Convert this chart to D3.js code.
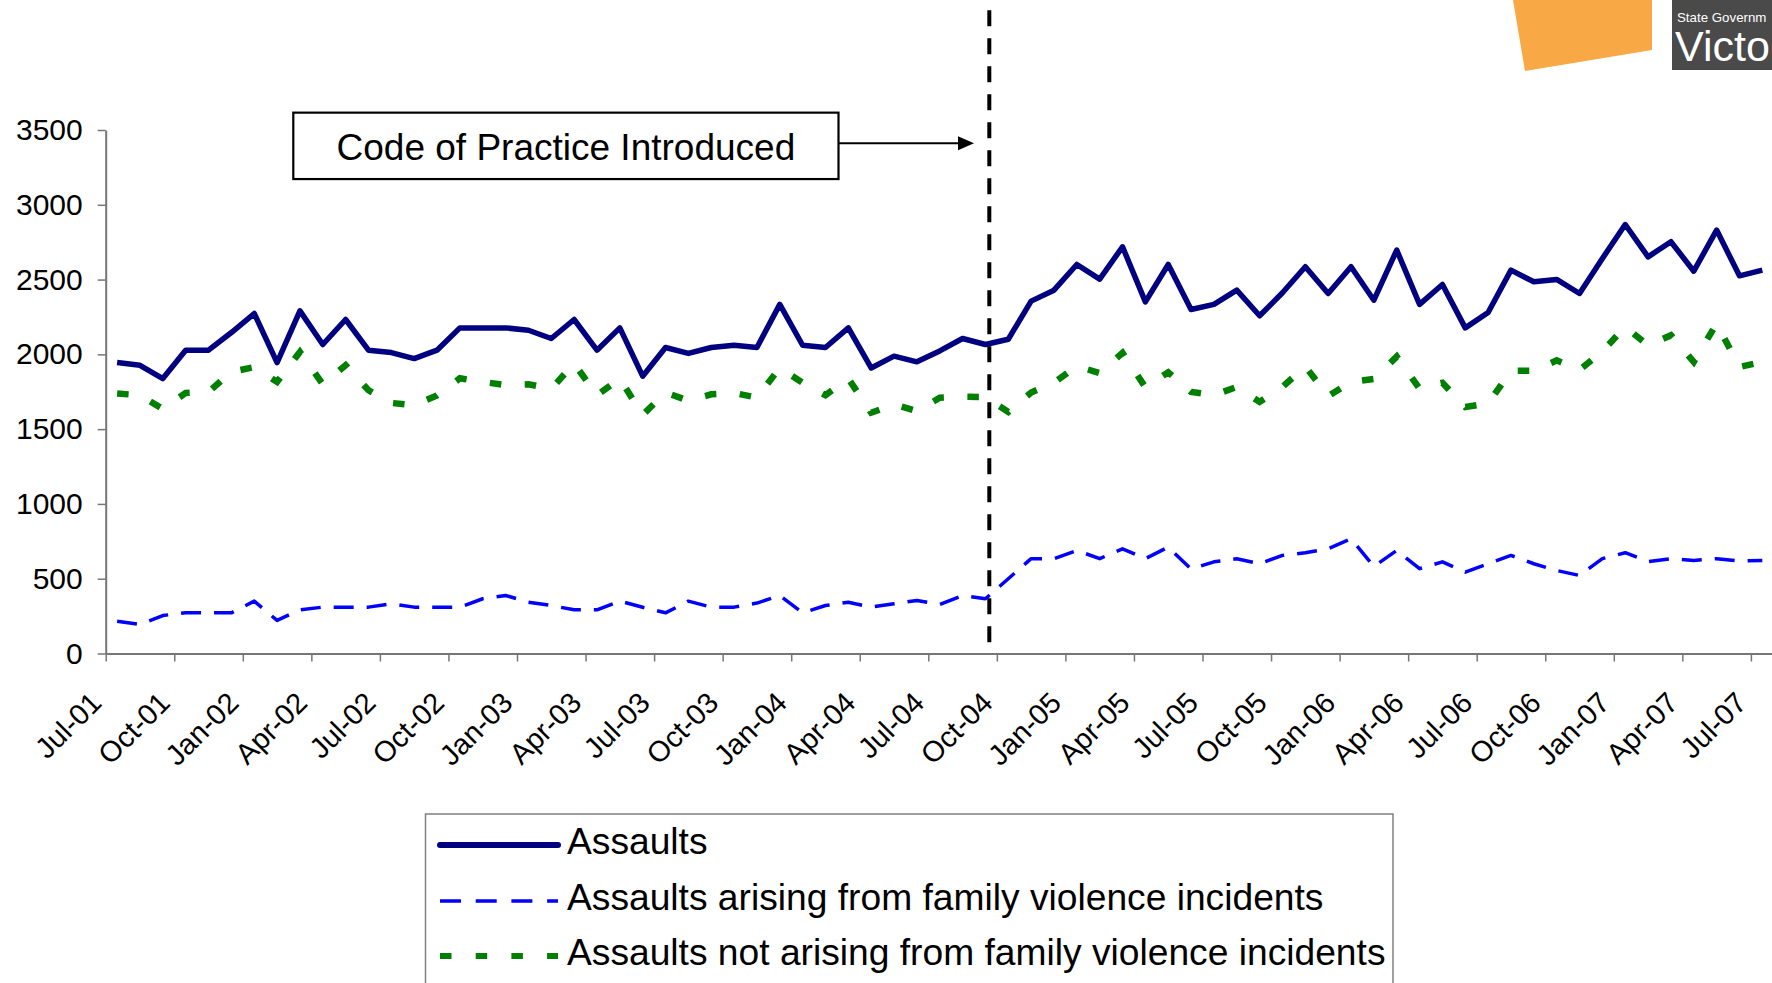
<!DOCTYPE html>
<html>
<head>
<meta charset="utf-8">
<script src="https://cdn.jsdelivr.net/npm/d3@7"></script>
<style>
  html, body { margin: 0; padding: 0; background: #ffffff; overflow: hidden; }
  svg { display: block; }
  text { font-family: "Liberation Sans", Arial, Helvetica, sans-serif; }
</style>
</head>
<body>
<svg id="chart" width="1772" height="983"></svg>
<script>
// ---------------- data ----------------
const categories = [
  "Jul-01","Aug-01","Sep-01","Oct-01","Nov-01","Dec-01",
  "Jan-02","Feb-02","Mar-02","Apr-02","May-02","Jun-02","Jul-02","Aug-02","Sep-02","Oct-02","Nov-02","Dec-02",
  "Jan-03","Feb-03","Mar-03","Apr-03","May-03","Jun-03","Jul-03","Aug-03","Sep-03","Oct-03","Nov-03","Dec-03",
  "Jan-04","Feb-04","Mar-04","Apr-04","May-04","Jun-04","Jul-04","Aug-04","Sep-04","Oct-04","Nov-04","Dec-04",
  "Jan-05","Feb-05","Mar-05","Apr-05","May-05","Jun-05","Jul-05","Aug-05","Sep-05","Oct-05","Nov-05","Dec-05",
  "Jan-06","Feb-06","Mar-06","Apr-06","May-06","Jun-06","Jul-06","Aug-06","Sep-06","Oct-06","Nov-06","Dec-06",
  "Jan-07","Feb-07","Mar-07","Apr-07","May-07","Jun-07","Jul-07"
];

const tickLabels = [
  "Jul-01","Oct-01","Jan-02","Apr-02","Jul-02","Oct-02","Jan-03","Apr-03","Jul-03",
  "Oct-03","Jan-04","Apr-04","Jul-04","Oct-04","Jan-05","Apr-05","Jul-05","Oct-05",
  "Jan-06","Apr-06","Jul-06","Oct-06","Jan-07","Apr-07","Jul-07"
];

const yTicks = [0, 500, 1000, 1500, 2000, 2500, 3000, 3500];

const assaults = [
  1945,1927,1838,2028,2028,2146,2273,1945,2291,2066,
  2233,2028,2012,1972,2028,2177,2177,2177,2161,2106,
  2233,2028,2177,1854,2046,2006,2046,2061,2046,2334,
  2061,2046,2177,1909,1988,1950,2023,2106,2066,2101,
  2356,2429,2601,2503,2719,2351,2601,2300,2334,2429,
  2258,2412,2586,2407,2586,2362,2697,2334,2467,2177,
  2280,2563,2485,2501,2407,2641,2868,2652,2753,2556,
  2831,2525,2563
];

const familyViolence = [
  216,194,254,272,272,272,350,221,292,310,
  310,310,332,310,310,310,366,388,343,321,
  292,292,350,309,272,350,310,310,337,388,
  272,321,343,310,332,355,328,388,366,500,
  634,634,689,634,700,634,711,565,613,634,
  600,656,674,700,767,582,689,567,613,544,
  600,656,600,555,522,634,674,615,634,622,
  634,618,622
];

const notFamilyViolence = [
  1738,1727,1635,1742,1749,1883,1915,1816,2016,1800,
  1927,1760,1675,1660,1725,1840,1816,1795,1800,1770,
  1939,1727,1838,1595,1745,1690,1733,1742,1711,1910,
  1810,1727,1838,1610,1665,1620,1710,1716,1715,1615,
  1745,1810,1921,1875,2010,1780,1880,1749,1727,1782,
  1682,1782,1920,1720,1816,1835,1985,1771,1810,1648,
  1671,1890,1890,1960,1895,2020,2184,2060,2128,1950,
  2206,1916,1950
];

const seriesNames = [
  "Assaults",
  "Assaults arising from family violence incidents",
  "Assaults not arising from family violence incidents"
];

const annotationText = "Code of Practice Introduced";
// visible part of the (cropped) logo in the corner
const logoSmallText = "State Governm";
const logoLargeText = "Victo";

// annotation placement, in axis units (month index, count)
const codeIntroducedMonth = 38.67;   // within Sep-04
const annotationBox = { m0: 8.21, m1: 32.07, v0: 3616, v1: 3172, textV: 3300 };
const arrowAt = { m: 38.0, v: 3411 };

// ---------------- layout ----------------
const svg = d3.select("#chart");
const plotLeft = 105.7, monthW = 22.85;
const x = d3.scaleLinear().domain([0, categories.length]).range([plotLeft, plotLeft + categories.length * monthW]);
const y = d3.scaleLinear().domain([0, 3500]).range([653.5, 130]);

const C_NAVY = "#000080", C_BLUE = "#0000FF", C_GREEN = "#008000", C_AXIS = "#767676";

// ---------------- logo (top-right, cropped) ----------------
const logo = svg.append("g");
logo.append("polygon").attr("points", "1513,0 1652,0 1652,50 1525,71").attr("fill", "#F8A845");
logo.append("rect").attr("x", 1672).attr("y", 0).attr("width", 110).attr("height", 70).attr("fill", "#4a4a4a");
logo.append("text").attr("x", 1677).attr("y", 22).attr("font-size", 13.3).attr("fill", "#fff").text(logoSmallText);
logo.append("text").attr("x", 1675).attr("y", 61).attr("font-size", 43).attr("fill", "#fff").text(logoLargeText);

// ---------------- axes ----------------
const yAxis = svg.append("g")
  .attr("transform", `translate(${plotLeft},0)`)
  .call(d3.axisLeft(y).tickValues(yTicks).tickSize(8).tickSizeOuter(0).tickPadding(15)
        .tickFormat(d3.format("d")));
yAxis.select(".domain").attr("stroke", C_AXIS).attr("stroke-width", 2);
yAxis.selectAll(".tick line").attr("stroke", C_AXIS).attr("stroke-width", 1.5);
yAxis.selectAll(".tick text").attr("font-size", 30).attr("fill", "#000")
  .attr("font-family", "Liberation Sans, Arial, sans-serif");

const tickIdx = tickLabels.map(l => categories.indexOf(l));
const xAxis = svg.append("g")
  .attr("transform", `translate(0,${y(0)})`)
  .call(d3.axisBottom(x).tickValues(tickIdx).tickSize(8).tickSizeOuter(0)
        .tickFormat(d => categories[d]));
xAxis.select(".domain").attr("stroke", C_AXIS).attr("stroke-width", 2);
xAxis.selectAll(".tick line").attr("stroke", C_AXIS).attr("stroke-width", 1.5);
xAxis.selectAll(".tick text")
  .attr("font-size", 29).attr("fill", "#000")
  .attr("font-family", "Liberation Sans, Arial, sans-serif")
  .attr("x", 0).attr("y", 0).attr("dy", 0)
  .attr("text-anchor", "end")
  .attr("transform", "translate(-3,51) rotate(-45)");

// ---------------- lines ----------------
const line = d3.line().x((d, i) => x(i + 0.5)).y(d => y(d));

svg.append("path").datum(assaults).attr("d", line)
  .attr("fill", "none").attr("stroke", C_NAVY).attr("stroke-width", 5.5)
  .attr("stroke-linejoin", "round");

svg.append("path").datum(familyViolence).attr("d", line)
  .attr("fill", "none").attr("stroke", C_BLUE).attr("stroke-width", 3.5)
  .attr("stroke-dasharray", "20 13").attr("stroke-linejoin", "round");

svg.append("path").datum(notFamilyViolence).attr("d", line)
  .attr("fill", "none").attr("stroke", C_GREEN).attr("stroke-width", 6.5)
  .attr("stroke-dasharray", "11.5 23.5");

// ---------------- code of practice marker ----------------
svg.append("line")
  .attr("x1", x(codeIntroducedMonth)).attr("x2", x(codeIntroducedMonth))
  .attr("y1", y(4300)).attr("y2", y(75))
  .attr("stroke", "#000").attr("stroke-width", 4).attr("stroke-dasharray", "16 12");

const bx0 = x(annotationBox.m0), bx1 = x(annotationBox.m1);
svg.append("rect")
  .attr("x", bx0).attr("y", y(annotationBox.v0))
  .attr("width", bx1 - bx0).attr("height", y(annotationBox.v1) - y(annotationBox.v0))
  .attr("fill", "#fff").attr("stroke", "#000").attr("stroke-width", 2.2);
svg.append("text")
  .attr("x", (bx0 + bx1) / 2).attr("y", y(annotationBox.textV))
  .attr("text-anchor", "middle").attr("font-size", 37).attr("fill", "#000")
  .text(annotationText);

const ay = y(arrowAt.v), ax = x(arrowAt.m);
svg.append("line").attr("x1", bx1).attr("x2", ax - 14).attr("y1", ay).attr("y2", ay)
  .attr("stroke", "#000").attr("stroke-width", 2);
svg.append("path")
  .attr("d", `M${ax},${ay} L${ax - 16},${ay - 7} L${ax - 16},${ay + 7} Z`)
  .attr("fill", "#000");

// ---------------- legend ----------------
const legend = svg.append("g");
legend.append("rect").attr("x", 425.5).attr("y", 814).attr("width", 967.5).attr("height", 220)
  .attr("fill", "#fff").attr("stroke", "#808080").attr("stroke-width", 1.5);
const legStyles = [
  { color: C_NAVY, width: 6, dash: null, cap: "round" },
  { color: C_BLUE, width: 3.5, dash: "21 14.7", cap: "butt" },
  { color: C_GREEN, width: 6, dash: "11.5 24.2", cap: "butt" }
];
const legRowY = [845, 901, 956];
seriesNames.forEach((name, k) => {
  const st = legStyles[k];
  const ln = legend.append("line")
    .attr("x1", 440).attr("x2", 558).attr("y1", legRowY[k]).attr("y2", legRowY[k])
    .attr("stroke", st.color).attr("stroke-width", st.width).attr("stroke-linecap", st.cap);
  if (st.dash) ln.attr("stroke-dasharray", st.dash);
  legend.append("text").attr("x", 567).attr("y", legRowY[k] + 8.5)
    .attr("font-size", 37.2).attr("fill", "#000").text(name);
});
</script>
</body>
</html>
